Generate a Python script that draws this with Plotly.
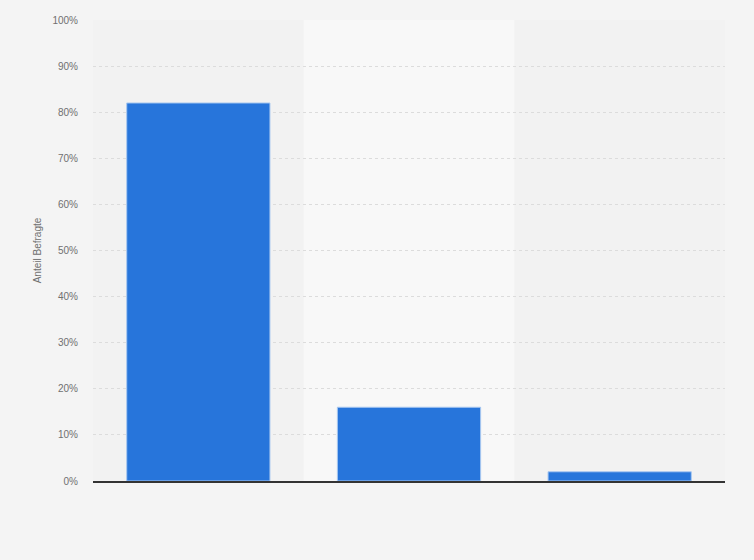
import plotly.graph_objects as go

# data
categories = ["Ja", "Nein", "Weiß nicht"]
shares = [82, 16, 2]
tick_vals = list(range(0, 101, 10))
tick_text = [f"{v}%" for v in tick_vals]

fig = go.Figure()
fig.add_trace(go.Bar(
    x=categories,
    y=shares,
    marker=dict(color="#2775db", line=dict(color="#a9c8f0", width=1)),
    width=0.68,
    hoverinfo="y",
))

# lighter band behind the middle category
fig.add_shape(type="rect", xref="x", yref="paper", x0=0.5, x1=1.5, y0=0, y1=1,
              fillcolor="#f8f8f8", line_width=0, layer="below")

fig.update_layout(
    width=754, height=560,
    margin=dict(l=93, r=29, t=20, b=79),
    paper_bgcolor="#f4f4f4",
    plot_bgcolor="#f2f2f2",
    font=dict(family="Liberation Sans, Arial, sans-serif", color="#666666"),
    showlegend=False,
)
fig.update_xaxes(showticklabels=False, showgrid=False, zeroline=False,
                 showline=True, linecolor="#333333", linewidth=1.5,
                 range=[-0.5, 2.5])
fig.update_yaxes(range=[0, 100], tickvals=tick_vals, ticktext=tick_text,
                 tickfont=dict(size=10, color="#707070"),
                 ticklabelstandoff=14,
                 showgrid=True, gridcolor="#dcdcdc", griddash="dot", gridwidth=1,
                 zeroline=False, ticks="", ticklen=0,
                 title=dict(text="Anteil Befragte", font=dict(size=10, color="#707070"),
                            standoff=8))

# drop the default page margin so the chart sits at the window corner
fig.write_html("out.html", config={"displayModeBar": False},
               post_script="document.body.style.margin='0';document.body.style.background='#f4f4f4';")
